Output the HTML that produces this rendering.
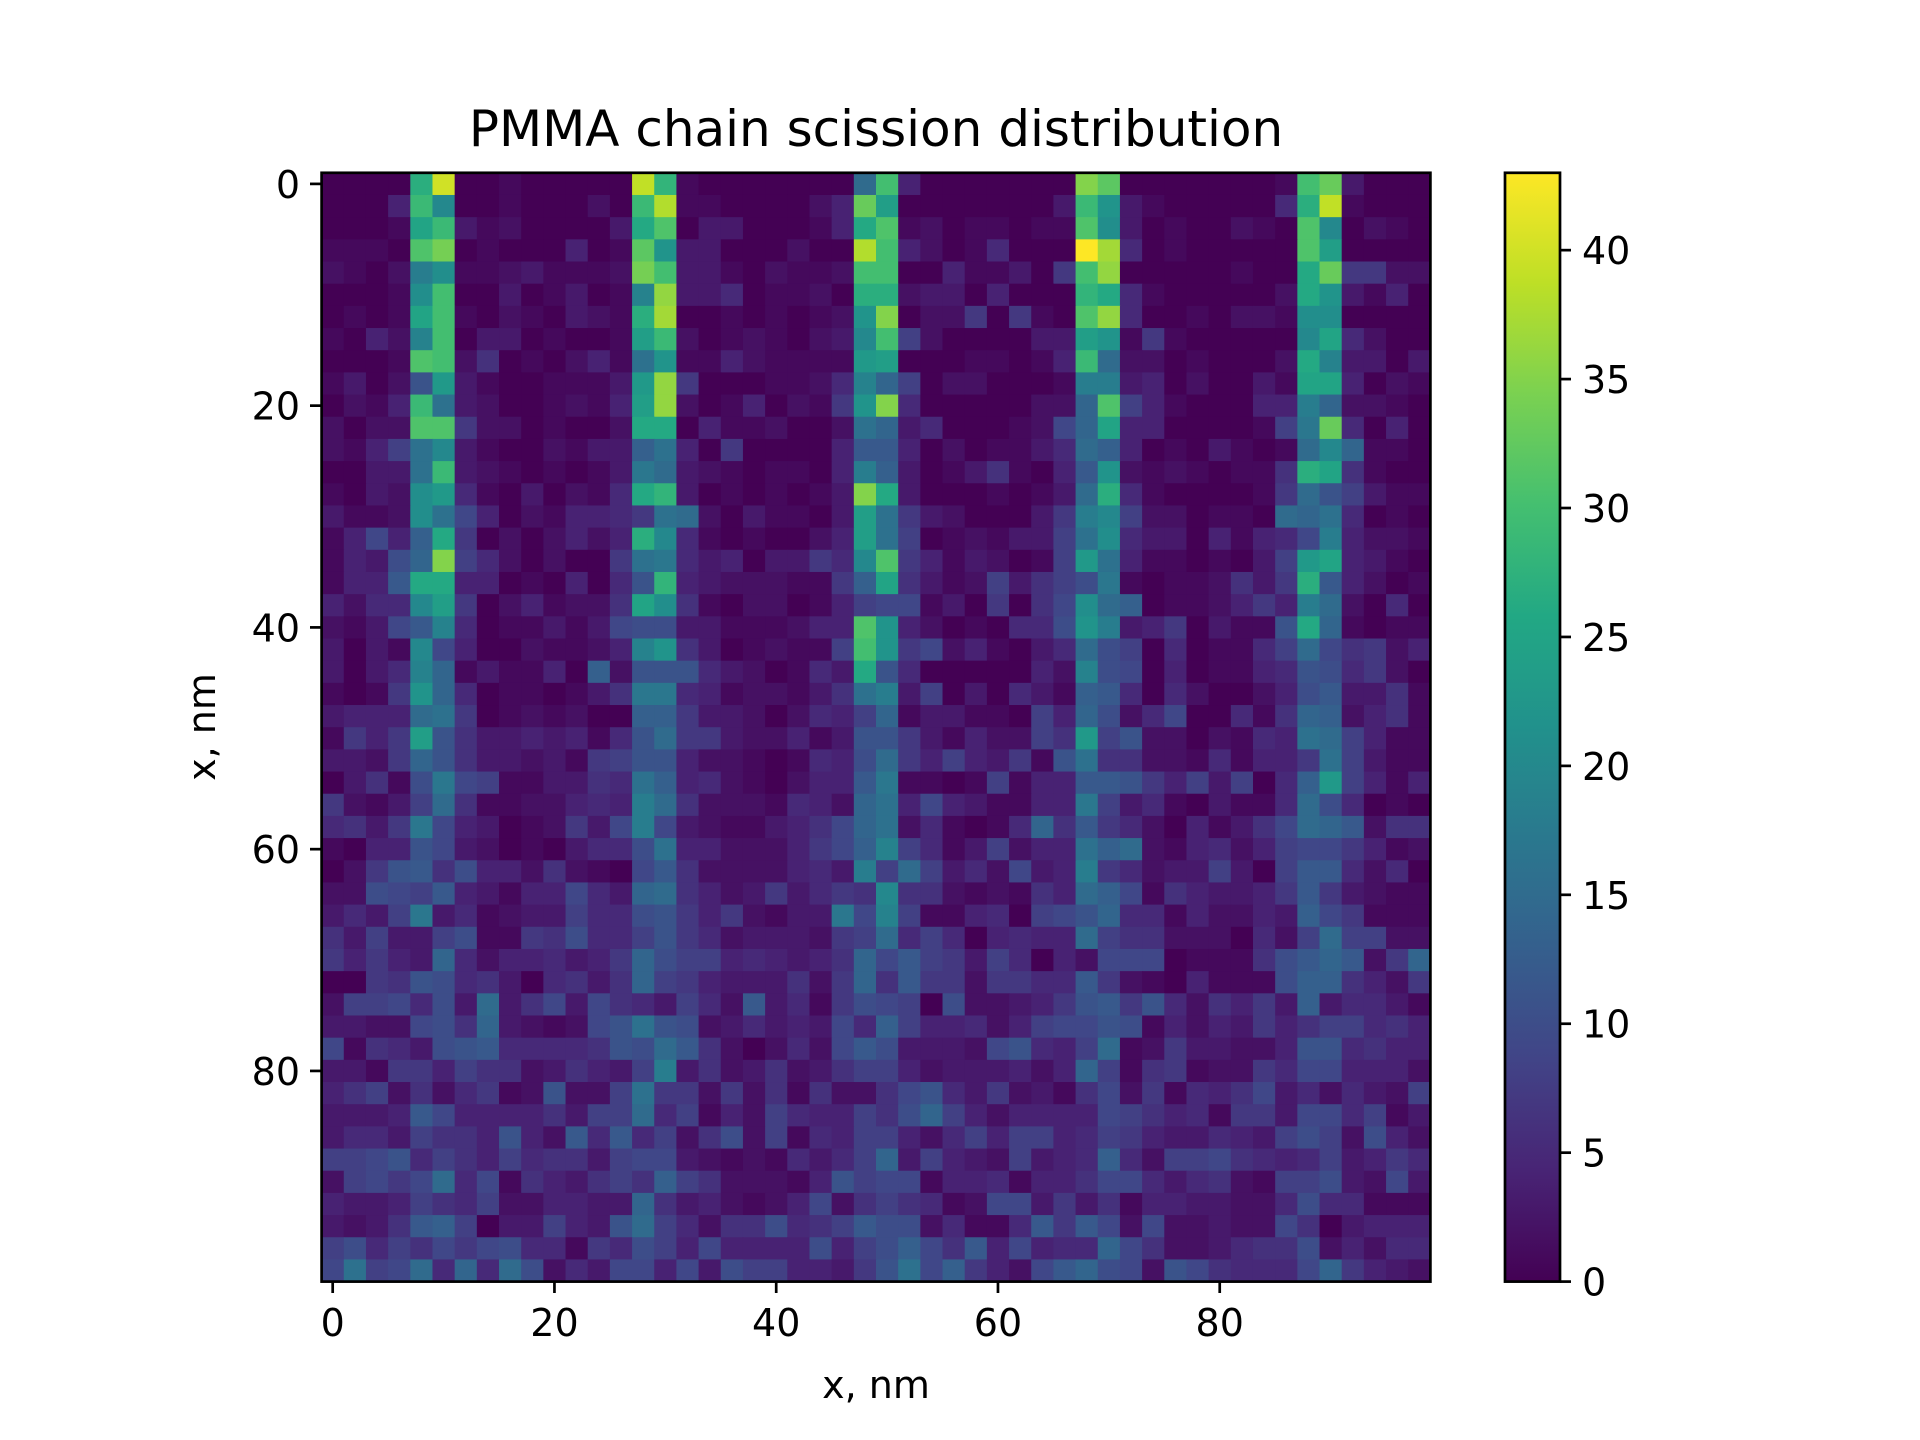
<!DOCTYPE html>
<html><head><meta charset="utf-8"><style>
html,body{margin:0;padding:0;background:#fff;}
svg{display:block;font-family:"DejaVu Sans","Liberation Sans",sans-serif;}
</style></head><body>
<svg id="chart" width="1920" height="1440" viewBox="0 0 1920 1440" xmlns="http://www.w3.org/2000/svg">
<rect width="1920" height="1440" fill="#fff"/>
<text x="876" y="146" font-size="50" text-anchor="middle" fill="#000">PMMA chain scission distribution</text>
<g id="cells"></g>
<rect x="321.6" y="172.8" width="1108.8" height="1108.8" fill="none" stroke="#000" stroke-width="2.7"/>
<g id="xticks"></g>
<g id="yticks"></g>
<text x="876" y="1398" font-size="38" text-anchor="middle" fill="#000">x, nm</text>
<text x="0" y="0" font-size="38" text-anchor="middle" fill="#000" transform="translate(215,727) rotate(-90)">x, nm</text>
<defs><linearGradient id="vgrad" x1="0" y1="1" x2="0" y2="0"></linearGradient></defs>
<rect x="1505" y="172.8" width="55" height="1108.8" fill="url(#vgrad)" stroke="#000" stroke-width="2.7"/>
<g id="cticks"></g>
</svg>
<script>
const xCategories = [0,2,4,6,8,10,12,14,16,18,20,22,24,26,28,30,32,34,36,38,40,42,44,46,48,50,52,54,56,58,60,62,64,66,68,70,72,74,76,78,80,82,84,86,88,90,92,94,96,98];
const axisTicks = [0,20,40,60,80];
const colorTicks = [0,5,10,15,20,25,30,35,40];
const valueMax = 43;
// value per char: index in this alphabet
const alphabet = "0123456789abcdefghijklmnopqrstuvwxyzABCDEFGHI";
// columns x = 0..48 nm
const rowsLeft = [
"0000rE00100000Ds10000000f","0004tk00100020tC11000024x","0001pt31200003qv03300014q","1110vy01000401wm33000200C",
"2102il11231112yu33102112u","0001lu00301301jA33501120r","0101pu10210321rB00101012m","1042ju03301001ot20121023k",
"0001vu26010241gm11421111n","1302bn31001113nA70001125j","0214tg32001214oA20140217m","2022vv72201002qq04112002g",
"2148gk31002133dg40700004c","0033gt32101013hf32101104i","1032ln51030215qs30101013z","3112lg940214457gf2031103o",
"1494dq70202424rk51010024o","143aez85202007gh53403375k","144cqq44010405bs43222117d","4255ko70241226pl610220148",
"2139cj50113139aa33111244v","3031k940021124jm63012118u","3035je131140d2bbb5320153q","1017me50110136hh54122136g",
"3444fg70121200dd733202548",
"1747ob63343415bf77322413b","3327eb63323178bb42210154a","0361ah98113365gd45210244c","72138f61122454if62221542e",
"5637h943012739i932113469e","1044b932010355ag44222479d","027bc6a44262109c62222453i","22a98c43144953ef642373576",
"3538h351233855ab7472133h9","638338a1176a558b752333278","74743e52445347ea88454346e","0076ba56305636e874333627e",
"28895a3f36939653852c3517a","33229a6e32129bgba23534395","91653abc55556bafc6202529c","331774866236438i362362368",
"4682625712b228g7727261622","3334c944446388f5814285448","35538664b42c5c5826a281548","889b586485663899321215358",
"28979f591643686d8622214b8","43348658224433e6342124926","3236cd8033843bf85266a568c","8a586979a55175a8494444a48",
"9g89f5e5fa25399493a884437"
];
// columns x = 50..98 nm
const rowsRight = [
"u40000000zw00000001ux3000","o00000003tm31000005rD1000","v12011011vl30100210vk0210","u42015000HB50100000vo0000",
"u00411307uA00000100qx7722","r23304000sq51000002qm3140","z02270710vA50010221ll0000","u82000033om17100000kp5200",
"o00011014tf22010002qj3303","e80220001ii34020031pp4021","z50000022ev84100044ie2210","e35000129ep44000018hx5040",
"c40201135fd40103101fke110","d30136104cm21210116rp6100","q30001013fr51000017fb8311","g73200037ik8220110feg5010",
"g80121338gl533041459i4221","v74132018ng41101038np4310","p63128368ah10112637rc4201","991307069lfd0112474if2050",
"m4201055ami3470311bqe1011","m79241035fa80501158f96724","b50000042ja90401145ba5720","i38030531dc50520024ac3361",
"e13311084ea25900516ed2461",
"b73142286n8b2202154gf8411","f7484371bg6622151447g8311","h11018144ccb7483805dn8414","g49431144h835103115fa5010",
"g251015e6c752041369fec266","j85138244gdf2145248997412","8f8352934i752338308cc5250","k66212164fd91643347c73211",
"j81145089be55142243d97111","f58504544f8662220528f8822","9c8738504299901116acec27e","6c7727755c72104111add6427",
"980a22347bc7b526473d35531","d844524899ba1424374688564","a33329b548f12733224bb5644","842333424e816712275994442",
"69b5372316927154693525328","6ae8424444986451773995813","8425848845874335438a82a42","e384328345d52889654583475",
"99144514469953562188a3293","8651299373614433225a55111","aa25115c7c929223229603444","ad96c49455e96223566a24255",
"bg9d7429cea92b965559e7432"
];

const NS = "http://www.w3.org/2000/svg";
const AX0 = 321.6, AY0 = 172.8, AW = 1108.8;
const xScale = v => AX0 + (v + 1) / 100 * AW;
const yScale = v => AY0 + (v + 1) / 100 * AW;
const cY0 = 1281.6, cH = 1108.8;
const cScale = v => cY0 - v / valueMax * cH;

const VIR = [[68,1,84],[72,36,117],[65,68,135],[53,95,141],[42,120,142],[33,145,140],[34,168,132],[68,191,112],[122,209,81],[189,223,38],[253,231,37]];
function viridis(t){
  t = Math.max(0, Math.min(1, t));
  const p = t * (VIR.length - 1), i = Math.min(Math.floor(p), VIR.length - 2), f = p - i;
  const c = VIR[i].map((a, k) => Math.round(a + (VIR[i+1][k] - a) * f));
  return "rgb(" + c.join(",") + ")";
}
function mk(tag, attrs, parent){
  const e = document.createElementNS(NS, tag);
  for (const k in attrs) e.setAttribute(k, attrs[k]);
  parent.appendChild(e);
  return e;
}

const cells = document.getElementById("cells");
for (let r = 0; r < xCategories.length; r++) {
  const row = (rowsLeft[r] || "") + (rowsRight[r] || "");
  for (let c = 0; c < xCategories.length; c++) {
    const ch = row[c] || "0";
    const v = Math.max(0, alphabet.indexOf(ch));
    const x0 = xScale(xCategories[c] - 1), y0 = yScale(xCategories[r] - 1);
    const rect = mk("rect", {x: x0, y: y0, width: AW / 50 + 0.6, height: AW / 50 + 0.6, fill: viridis(v / valueMax)}, cells);
    
    
  }
}

const xt = document.getElementById("xticks"), yt = document.getElementById("yticks");
axisTicks.forEach(t => {
  const x = xScale(t);
  const l = mk("line", {x1: x, x2: x, y1: 1281.6, y2: 1293, stroke: "#000", "stroke-width": 2.7}, xt);
  
  
  const tx = mk("text", {x: x, y: 1336, "font-size": 38, "text-anchor": "middle", fill: "#000"}, xt);
  tx.textContent = t;
  
  
  const y = yScale(t);
  const l2 = mk("line", {x1: 310, x2: 321.6, y1: y, y2: y, stroke: "#000", "stroke-width": 2.7}, yt);
  
  
  const ty = mk("text", {x: 300, y: y + 14, "font-size": 38, "text-anchor": "end", fill: "#000"}, yt);
  ty.textContent = t;
  
  
});

const grad = document.getElementById("vgrad");
for (let i = 0; i <= 20; i++) {
  mk("stop", {offset: (i / 20 * 100) + "%", "stop-color": viridis(i / 20)}, grad);
}
const ct = document.getElementById("cticks");
colorTicks.forEach(t => {
  const y = cScale(t);
  const l = mk("line", {x1: 1560, x2: 1571, y1: y, y2: y, stroke: "#000", "stroke-width": 2.7}, ct);
  
  
  const tx = mk("text", {x: 1582, y: y + 14, "font-size": 38, "text-anchor": "start", fill: "#000"}, ct);
  tx.textContent = t;
  
  
});
</script>
</body></html>
